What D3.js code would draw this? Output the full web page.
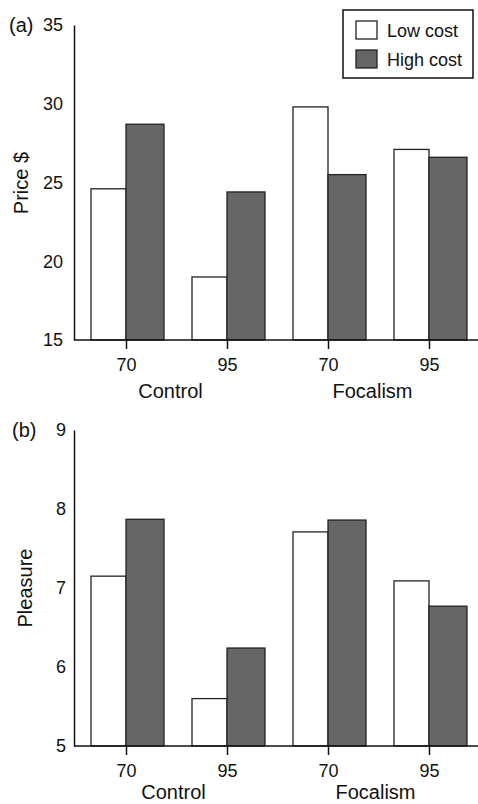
<!DOCTYPE html>
<html>
<head>
<meta charset="utf-8">
<script src="https://cdn.jsdelivr.net/npm/d3@7"></script>
<style>
  body { margin: 0; background: #fff; }
  text { font-family: "Liberation Sans", Arial, Helvetica, sans-serif; fill: #111; }
</style>
</head>
<body>
<div id="wrapper"></div>
<script>
// data
const groups = ["Control", "Focalism"];
const prices = ["70", "95"];
const conditions = ["Control-70", "Control-95", "Focalism-70", "Focalism-95"];
const series = ["Low cost", "High cost"];

const priceLow = [24.6, 19.0, 29.8, 27.1];
const priceHigh = [28.7, 24.4, 25.5, 26.6];
const priceTicks = [15, 20, 25, 30, 35];

const pleasureLow = [7.15, 5.6, 7.71, 7.09];
const pleasureHigh = [7.87, 6.24, 7.86, 6.77];
const pleasureTicks = [5, 6, 7, 8, 9];

const width = 478, height = 804;
const fillFor = { "Low cost": "#fff", "High cost": "#666" };

const svg = d3.select("#wrapper")
  .append("svg")
  .attr("width", width)
  .attr("height", height);

const axisX = 74;
const x = d3.scalePoint().domain(conditions).range([126, 429]);
const lowW = 35, highW = 38;

function drawPanel(opts) {
  const y = d3.scaleLinear().domain(d3.extent(opts.ticks)).range([opts.bottom, opts.top]);
  const g = svg.append("g");

  // bars: white to the left of the tick, grey to the right
  const rows = conditions.map((c, i) => ({ c, low: opts.low[i], high: opts.high[i] }));
  g.append("g").selectAll("rect.low")
    .data(rows).enter().append("rect")
    .attr("x", d => x(d.c) - lowW)
    .attr("y", d => y(d.low))
    .attr("width", lowW)
    .attr("height", d => y.range()[0] - y(d.low))
    .attr("fill", fillFor["Low cost"])
    .attr("stroke", "#222").attr("stroke-width", 1.3);
  g.append("g").selectAll("rect.high")
    .data(rows).enter().append("rect")
    .attr("x", d => x(d.c))
    .attr("y", d => y(d.high))
    .attr("width", highW)
    .attr("height", d => y.range()[0] - y(d.high))
    .attr("fill", fillFor["High cost"])
    .attr("stroke", "#222").attr("stroke-width", 1.3);

  // y axis (line only, no tick marks)
  const ya = g.append("g")
    .attr("transform", `translate(${axisX},0)`)
    .call(d3.axisLeft(y).tickValues(opts.ticks).tickSize(0).tickPadding(opts.yPad).tickFormat(d3.format("d")));
  ya.select(".domain").attr("stroke", "#111").attr("stroke-width", 1.5);
  ya.selectAll("text").attr("font-size", 18).style("font-family", "inherit");

  // x axis
  g.append("line")
    .attr("x1", axisX).attr("x2", width)
    .attr("y1", opts.bottom).attr("y2", opts.bottom)
    .attr("stroke", "#111").attr("stroke-width", 1.5);
  const xa = g.append("g")
    .attr("transform", `translate(0,${opts.bottom})`)
    .call(d3.axisBottom(x).tickSize(9).tickPadding(9).tickFormat(c => c.split("-")[1]));
  xa.select(".domain").remove();
  xa.selectAll("line").attr("stroke", "#111").attr("stroke-width", 1.5);
  xa.selectAll("text").attr("font-size", 18).style("font-family", "inherit");

  // group labels
  g.selectAll("text.group")
    .data(groups).enter().append("text")
    .attr("class", "group")
    .attr("x", gr => d3.mean(prices, p => x(gr + "-" + p)) + opts.groupDx)
    .attr("y", opts.bottom + opts.groupDy)
    .attr("text-anchor", "middle")
    .attr("font-size", 20)
    .text(d => d);

  // y title
  g.append("text")
    .attr("transform", `translate(${opts.titleX},${opts.titleY}) rotate(-90)`)
    .attr("text-anchor", "middle")
    .attr("font-size", 20)
    .text(opts.title);

  // panel letter
  g.append("text")
    .attr("x", opts.letterX).attr("y", opts.top + 7)
    .attr("font-size", 20)
    .text(opts.letter);
  return g;
}

drawPanel({ low: priceLow, high: priceHigh, ticks: priceTicks, top: 25, bottom: 340,
  yPad: 11, groupDx: -6, groupDy: 58,
  title: "Price $", titleX: 28, titleY: 183, letter: "(a)", letterX: 9 });
drawPanel({ low: pleasureLow, high: pleasureHigh, ticks: pleasureTicks, top: 430, bottom: 746,
  yPad: 8, groupDx: -3, groupDy: 53,
  title: "Pleasure", titleX: 32, titleY: 588, letter: "(b)", letterX: 12 });

// legend
const legend = svg.append("g");
legend.append("rect")
  .attr("x", 343).attr("y", 10).attr("width", 130).attr("height", 68)
  .attr("fill", "#fff").attr("stroke", "#111").attr("stroke-width", 1.5);
const li = legend.selectAll("g.item").data(series).enter().append("g")
  .attr("transform", (d, i) => `translate(356,${21 + i * 29})`);
li.append("rect")
  .attr("width", 21).attr("height", 18)
  .attr("fill", d => fillFor[d])
  .attr("stroke", "#222").attr("stroke-width", 1.3);
li.append("text")
  .attr("x", 31).attr("y", 16)
  .attr("font-size", 18)
  .text(d => d);
</script>
</body>
</html>
